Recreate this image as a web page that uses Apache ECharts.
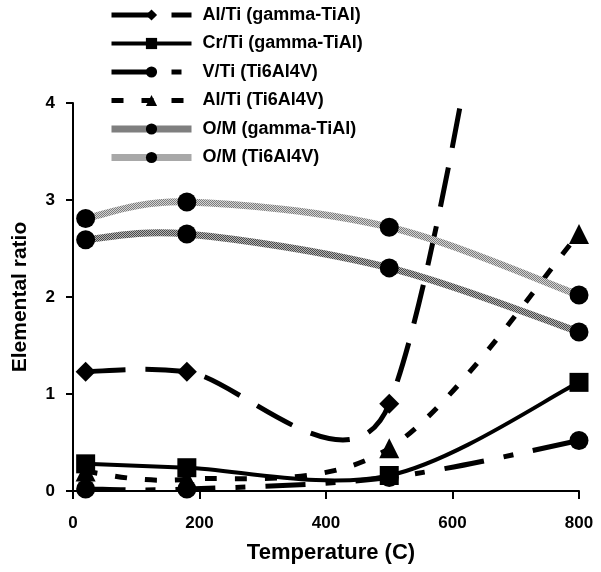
<!DOCTYPE html>
<html>
<head>
<meta charset="utf-8">
<script src="https://cdn.jsdelivr.net/npm/echarts@6/dist/echarts.min.js"></script>
<style>html,body{margin:0;padding:0;background:#fff}#c{width:601px;height:572px}</style>
</head>
<body>
<div id="c"></div>
<script>
var temps = [20, 180, 500, 800];
var alTiGamma = [1.23, 1.23, 0.9, 11.4];
var crTiGamma = [0.28, 0.24, 0.16, 1.12];
var vTiTi64 = [0.02, 0.02, 0.14, 0.52];
var alTiTi64 = [0.2, 0.12, 0.44, 2.65];
var omGamma = [2.59, 2.65, 2.3, 1.64];
var omTi64 = [2.81, 2.98, 2.72, 2.02];
var seriesNames = ['Al/Ti (gamma-TiAl)', 'Cr/Ti (gamma-TiAl)', 'V/Ti (Ti6Al4V)', 'Al/Ti (Ti6Al4V)', 'O/M (gamma-TiAl)', 'O/M (Ti6Al4V)'];
var xTicks = [0, 200, 400, 600, 800];
var yTicks = [0, 1, 2, 3, 4];

var FONT = 'Liberation Sans, Arial, sans-serif';

function pairs(ys) { return temps.map(function (t, i) { return [t, ys[i]]; }); }

function hatch(c1, c2) {
  var cv = document.createElement('canvas');
  cv.width = 4; cv.height = 4;
  var ctx = cv.getContext('2d');
  for (var y = 0; y < 4; y++) for (var x = 0; x < 4; x++) {
    ctx.fillStyle = ((x + y) % 2 === 0) ? c1 : c2;
    ctx.fillRect(x, y, 1, 1);
  }
  return { image: cv, repeat: 'repeat' };
}
var hatchDark = hatch('#4a4a4a', '#b4b4b4');
var hatchLight = hatch('#7c7c7c', '#d4d4d4');

// Excel-style smoothed curve (Bezier, 1/6 tension limited by half the segment length)
function smoothPath(pts) {
  function dist(a, b) { return Math.sqrt((a[0] - b[0]) * (a[0] - b[0]) + (a[1] - b[1]) * (a[1] - b[1])); }
  var d = 'M' + pts[0][0] + ' ' + pts[0][1];
  for (var i = 0; i < pts.length - 1; i++) {
    var p1 = pts[i], p2 = pts[i + 1];
    var p0 = i > 0 ? pts[i - 1] : p1;
    var p3 = i + 2 < pts.length ? pts[i + 2] : p2;
    var d12 = dist(p1, p2), d02 = dist(p0, p2), d13 = dist(p1, p3);
    var f0 = (d02 / 6 < d12 / 2) ? 1 / 6 : d12 / (2 * d02);
    var f3 = (d13 / 6 < d12 / 2) ? 1 / 6 : d12 / (2 * d13);
    var c1 = [p1[0] + (p2[0] - p0[0]) * f0, p1[1] + (p2[1] - p0[1]) * f0];
    var c2 = [p2[0] - (p3[0] - p1[0]) * f3, p2[1] - (p3[1] - p1[1]) * f3];
    d += ' C' + c1[0] + ' ' + c1[1] + ' ' + c2[0] + ' ' + c2[1] + ' ' + p2[0] + ' ' + p2[1];
  }
  return d;
}

var styles = [
  { ys: alTiGamma, symbol: 'diamond', size: 20, stroke: '#000', width: 5, dash: [40, 20] },
  { ys: crTiGamma, symbol: 'rect', size: 19, stroke: '#000', width: 4, dash: null },
  { ys: vTiTi64, symbol: 'circle', size: 19, stroke: '#000', width: 5, dash: [40, 20, 10, 20] },
  { ys: alTiTi64, symbol: 'triangle', size: 20, stroke: '#000', width: 5, dash: [12, 18] },
  { ys: omGamma, symbol: 'circle', size: 19, stroke: hatchDark, width: 7, dash: null },
  { ys: omTi64, symbol: 'circle', size: 19, stroke: hatchLight, width: 7, dash: null }
];

var series = [];
styles.forEach(function (s, k) {
  series.push({
    id: 'curve' + k, type: 'custom', z: 1, clip: true,
    data: pairs(s.ys), encode: { x: 0, y: 1 },
    renderItem: function (params, api) {
      if (params.dataIndex !== 0) return null;
      var pts = s.ys.map(function (v, i) { return api.coord([temps[i], v]); });
      return {
        type: 'path',
        shape: { pathData: smoothPath(pts) },
        style: { fill: 'none', stroke: s.stroke, lineWidth: s.width, lineDash: s.dash, lineCap: 'butt', lineJoin: 'round' }
      };
    }
  });
});
styles.forEach(function (s, k) {
  series.push({
    name: seriesNames[k], type: 'line', z: 3, data: pairs(s.ys), smooth: false,
    symbol: s.symbol, symbolSize: s.size, showSymbol: true,
    itemStyle: { color: '#000', opacity: 1 },
    lineStyle: { color: '#000', width: s.width, opacity: 0 }
  });
});

var legendData = styles.map(function (s, k) {
  return {
    name: seriesNames[k],
    itemStyle: { color: '#000', opacity: 1 },
    lineStyle: { color: s.stroke, width: s.width, type: s.dash || 'solid', opacity: 1 }
  };
});

var chart = echarts.init(document.getElementById('c'), null, { renderer: 'canvas' });
chart.setOption({
  animation: false,
  backgroundColor: '#fff',
  grid: { left: 73, right: 22, top: 103, bottom: 81, containLabel: false },
  legend: {
    orient: 'vertical', left: 108, top: 6, padding: 0, itemWidth: 80, itemHeight: 14, itemGap: 10.5,
    data: legendData,
    textStyle: { fontFamily: FONT, fontWeight: 'bold', fontSize: 18, lineHeight: 14, color: '#000', padding: [0, 0, 0, 6] }
  },
  xAxis: {
    type: 'value', min: 0, max: 800, interval: 200,
    name: 'Temperature (C)', nameLocation: 'middle', nameGap: 51,
    nameTextStyle: { fontFamily: FONT, fontWeight: 'bold', fontSize: 22, color: '#000', padding: [0, 0, 0, 10] },
    axisLine: { show: true, onZero: false, lineStyle: { color: '#000', width: 2 } },
    axisTick: { show: true, inside: false, length: 8, lineStyle: { color: '#000', width: 2 } },
    axisLabel: { margin: 24, fontFamily: FONT, fontWeight: 'bold', fontSize: 17, color: '#000',
      formatter: function (v) { return xTicks.indexOf(v) >= 0 ? String(v) : ''; } },
    splitLine: { show: false }
  },
  yAxis: {
    type: 'value', min: 0, max: 4, interval: 1,
    name: 'Elemental ratio', nameLocation: 'middle', nameGap: 42, nameRotate: 90,
    nameTextStyle: { fontFamily: FONT, fontWeight: 'bold', fontSize: 21, color: '#000' },
    axisLine: { show: true, lineStyle: { color: '#000', width: 2 } },
    axisTick: { show: true, inside: false, length: 7, lineStyle: { color: '#000', width: 2 } },
    axisLabel: { margin: 18, fontFamily: FONT, fontWeight: 'bold', fontSize: 17, color: '#000',
      formatter: function (v) { return yTicks.indexOf(v) >= 0 ? String(v) : ''; } },
    splitLine: { show: false }
  },
  series: series
});
</script>
</body>
</html>
